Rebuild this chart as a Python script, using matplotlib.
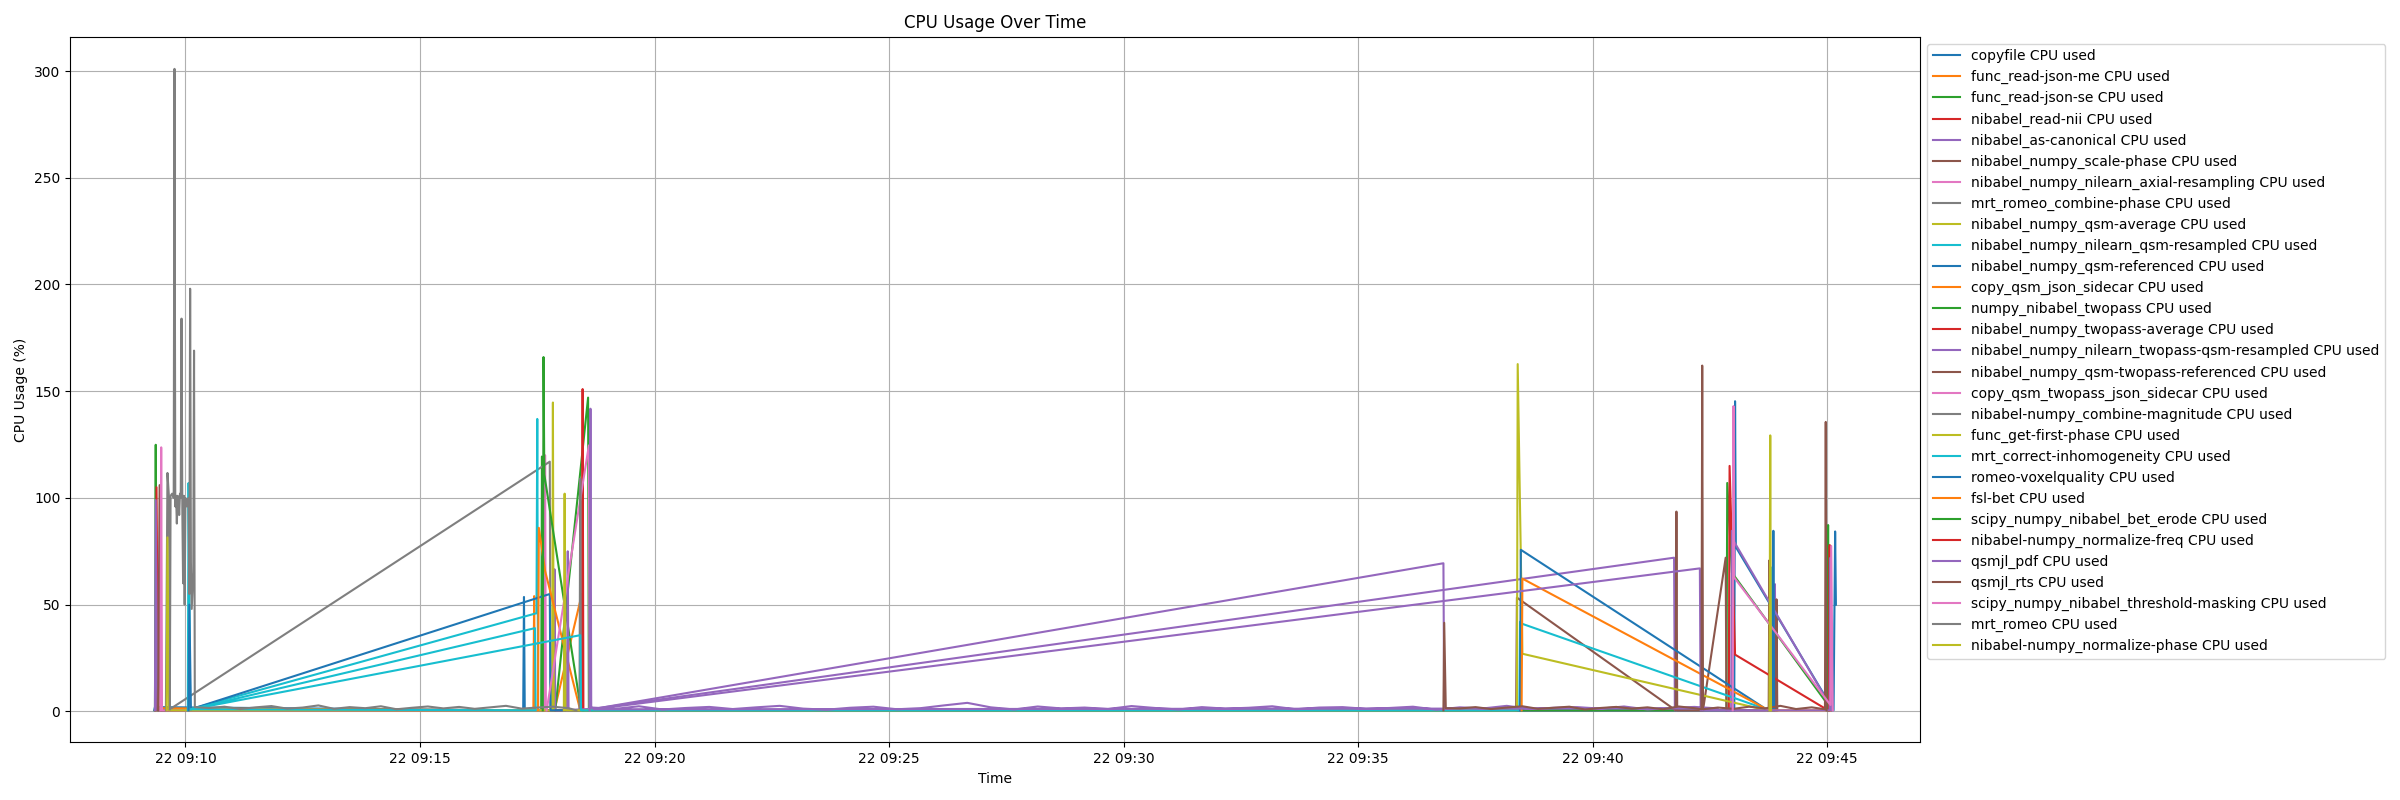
import pandas as pd
import matplotlib.pyplot as plt

DAY = "2024-03-22 09:"

# sample times (MM:SS after 09:00) and CPU % per task
copyfile_t = ["09:20", "09:21", "17:12", "17:13", "17:14"]
copyfile_v = [0.5, 2.0, 0.5, 53.6, 0.5]

json_me_t = ["09:21", "09:22", "17:25", "17:26", "17:27", "17:52", "18:27", "18:28"]
json_me_v = [0.5, 1.5, 0.5, 54.0, 0.5, 0.5, 55.0, 0.5]

json_se_t = ["09:21", "09:22", "09:23", "17:35", "17:36", "17:37", "17:53", "18:35", "18:36"]
json_se_v = [0.5, 124.9, 0.5, 0.5, 119.4, 0.5, 0.5, 147.0, 0.5]

read_nii_t = ["09:22", "09:23", "09:25", "18:27", "18:28", "18:29"]
read_nii_v = [0.5, 105.0, 0.5, 0.5, 151.0, 0.5]

canonical_t = ["09:21", "09:22", "09:24", "17:51", "17:52", "17:53", "18:40", "36:49",
               "36:50", "43:52", "43:53", "43:54"]
canonical_v = [0.5, 99.0, 0.5, 0.5, 66.6, 0.5, 1.0, 69.4, 0.5, 0.5, 59.6, 0.5]

scale_phase_t = ["09:25", "09:27", "09:28", "43:45", "43:46", "43:47", "43:54", "43:55", "43:56"]
scale_phase_v = [0.5, 106.0, 0.5, 0.5, 70.8, 0.5, 0.5, 52.5, 0.5]

axial_t = ["09:28", "09:29", "09:30", "17:39", "17:40", "17:41"]
axial_v = [0.5, 123.7, 0.5, 0.5, 120.0, 0.5]

combine_phase_t = ["09:35", "09:37", "09:39", "09:40", "17:46", "17:47"]
combine_phase_v = [0.5, 111.7, 100.0, 1.0, 117.0, 0.5]

qsm_avg_t = ["09:36", "09:37", "09:39", "17:49", "17:50", "17:51"]
qsm_avg_v = [0.5, 81.5, 0.5, 0.5, 144.7, 0.5]

qsm_resampled_t = ["10:03", "10:04", "10:05", "10:06", "17:29", "17:30", "17:31"]
qsm_resampled_v = [0.5, 107.0, 60.0, 1.0, 46.0, 137.0, 0.5]

qsm_ref_t = ["10:04", "10:05", "10:07", "17:46", "17:47", "43:01", "43:02", "43:03",
             "45:08", "45:10", "45:11"]
qsm_ref_v = [0.5, 50.0, 1.0, 55.0, 0.5, 0.5, 145.3, 77.0, 0.5, 84.3, 50.0]

json_sidecar_t = ["17:31", "17:32", "17:40", "18:25", "18:26"]
json_sidecar_v = [0.5, 86.0, 65.8, 0.5, 0.5]

twopass_t = ["17:37", "17:38", "17:39", "18:26", "42:51", "42:52", "42:58", "45:06"]
twopass_v = [0.5, 166.0, 111.0, 0.5, 0.5, 107.0, 65.0, 0.5]

twopass_avg_t = ["42:54", "42:55", "43:02", "45:01"]
twopass_avg_v = [0.5, 115.0, 26.6, 0.5]

twopass_resampled_t = ["18:08", "18:09", "18:10", "18:41", "41:44", "41:45", "42:57",
                       "42:58", "43:00", "45:07"]
twopass_resampled_v = [0.5, 75.0, 0.5, 1.2, 72.0, 0.5, 0.5, 84.6, 80.0, 0.5]

twopass_ref_t = ["38:22", "38:23", "41:46", "41:47", "41:48", "42:21", "42:50", "42:51"]
twopass_ref_v = [0.5, 53.3, 0.5, 93.6, 0.5, 0.5, 72.0, 0.5]

twopass_sidecar_t = ["17:42", "18:36", "18:37"]
twopass_sidecar_v = [0.5, 124.6, 0.5]

combine_mag_t = ["18:24", "18:25", "18:26"]
combine_mag_v = [0.5, 109.0, 0.5]

first_phase_t = ["18:04", "18:05", "18:06", "38:23", "38:24", "38:30", "43:43"]
first_phase_v = [0.5, 102.0, 0.5, 0.5, 162.7, 27.0, 0.5]

inhomog_t = ["10:07", "17:27", "17:28", "10:08", "18:25", "18:26", "38:26", "38:27",
             "38:30", "43:46", "43:48", "43:49", "43:50"]
inhomog_v = [1.0, 39.0, 0.5, 1.0, 35.7, 0.5, 0.5, 42.0, 41.0, 0.5, 0.5, 67.4, 0.5]

voxelquality_t = ["38:27", "38:28", "43:44", "43:50", "43:51", "43:52"]
voxelquality_v = [0.5, 75.7, 0.5, 0.5, 84.6, 0.5]

fsl_bet_t = ["38:29", "38:30", "43:45", "45:02", "45:03", "45:04"]
fsl_bet_v = [0.5, 62.2, 0.5, 0.5, 77.8, 0.5]

bet_erode_t = ["45:00", "45:01", "45:02"]
bet_erode_v = [0.5, 87.3, 0.5]

norm_freq_t = ["45:02", "45:03", "45:04"]
norm_freq_v = [0.5, 77.9, 0.5]

pdf_t = ["18:37", "18:38", "18:39",
         "18:40", "19:10", "19:40", "20:10", "20:40", "21:10", "21:40", "22:10", "22:40",
         "23:10", "23:40", "24:10", "24:40", "25:10", "25:40", "26:10", "26:40", "27:10",
         "27:40", "28:10", "28:40", "29:10", "29:40", "30:10", "30:40", "31:10", "31:40",
         "32:10", "32:40", "33:10", "33:40", "34:10", "34:40", "35:10", "35:40", "36:10",
         "36:40", "37:10", "37:40", "38:10", "38:40", "39:10", "39:40", "40:10", "40:40",
         "41:10", "41:40", "42:10", "42:40",
         "18:42", "42:17", "42:18", "45:03", "45:04", "45:05"]
pdf_v = [0.5, 141.8, 1.5,
         1.8, 1.2, 2.4, 0.9, 1.6, 2.1, 1.1, 1.9, 2.6,
         1.3, 0.8, 1.7, 2.2, 1.0, 1.5, 2.8, 4.0, 1.9,
         0.9, 2.3, 1.4, 1.8, 1.1, 2.5, 1.6, 0.9, 2.0,
         1.3, 1.7, 2.4, 1.0, 1.8, 2.0, 1.2, 1.6, 2.2,
         0.8, 1.9, 1.4, 2.6, 1.1, 1.7, 2.0, 1.3, 2.3,
         0.9, 1.6, 2.1, 1.4,
         1.0, 67.0, 0.5, 0.5, 72.0, 0.5]

rts_t = ["36:49", "36:50", "36:52", "37:10", "37:30", "37:50", "38:10", "38:30", "38:50",
         "39:10", "39:30", "39:50", "40:10", "40:30", "40:50", "41:10", "41:30", "41:50",
         "42:10", "42:19", "42:20", "42:21", "42:40", "43:00", "43:20", "43:40", "44:00",
         "44:20", "44:40", "44:57", "44:58", "44:59"]
rts_v = [0.5, 41.5, 1.5, 1.4, 2.0, 1.1, 1.8, 2.4, 1.2,
         1.7, 2.2, 0.9, 1.6, 2.1, 1.3, 1.9, 1.0, 2.3,
         1.5, 1.0, 162.0, 1.0, 1.8, 1.2, 2.2, 1.4, 2.6,
         1.1, 1.9, 1.0, 135.6, 0.5]

threshold_t = ["42:59", "43:00", "43:01", "45:04", "45:05", "45:07"]
threshold_v = [0.5, 143.0, 62.7, 3.0, 77.5, 0.5]

romeo_t = ["09:40", "09:41", "09:43", "09:45", "09:46", "09:47", "09:48", "09:49", "09:50",
           "09:51", "09:52", "09:53", "09:54", "09:55", "09:56", "09:57", "09:58", "09:59",
           "10:00", "10:02", "10:04", "10:05", "10:06", "10:07", "10:08", "10:10", "10:11",
           "10:12", "10:30", "10:50", "11:10", "11:30", "11:50", "12:10", "12:30", "12:50",
           "13:10", "13:30", "13:50", "14:10", "14:30", "14:50", "15:10", "15:30", "15:50",
           "16:10", "16:30", "16:50", "17:10", "17:30", "17:50", "18:10", "18:20"]
romeo_v = [1.0, 101.0, 102.0, 100.0, 301.0, 96.0, 101.0, 88.0, 101.0,
           100.0, 92.0, 102.0, 100.0, 184.0, 95.0, 60.0, 101.0, 50.0,
           100.0, 96.0, 100.0, 55.0, 198.0, 70.0, 48.0, 65.0, 169.0,
           2.0, 1.6, 2.2, 1.1, 1.9, 2.5, 1.3, 1.8, 2.8,
           1.2, 2.0, 1.5, 2.4, 1.0, 1.7, 2.3, 1.4, 2.1,
           1.2, 1.9, 2.6, 1.3, 1.8, 2.2, 1.5, 0.5]

norm_phase_t = ["43:46", "43:47", "43:48"]
norm_phase_v = [0.5, 129.3, 0.5]

series = [
    ("copyfile", copyfile_t, copyfile_v),
    ("func_read-json-me", json_me_t, json_me_v),
    ("func_read-json-se", json_se_t, json_se_v),
    ("nibabel_read-nii", read_nii_t, read_nii_v),
    ("nibabel_as-canonical", canonical_t, canonical_v),
    ("nibabel_numpy_scale-phase", scale_phase_t, scale_phase_v),
    ("nibabel_numpy_nilearn_axial-resampling", axial_t, axial_v),
    ("mrt_romeo_combine-phase", combine_phase_t, combine_phase_v),
    ("nibabel_numpy_qsm-average", qsm_avg_t, qsm_avg_v),
    ("nibabel_numpy_nilearn_qsm-resampled", qsm_resampled_t, qsm_resampled_v),
    ("nibabel_numpy_qsm-referenced", qsm_ref_t, qsm_ref_v),
    ("copy_qsm_json_sidecar", json_sidecar_t, json_sidecar_v),
    ("numpy_nibabel_twopass", twopass_t, twopass_v),
    ("nibabel_numpy_twopass-average", twopass_avg_t, twopass_avg_v),
    ("nibabel_numpy_nilearn_twopass-qsm-resampled", twopass_resampled_t, twopass_resampled_v),
    ("nibabel_numpy_qsm-twopass-referenced", twopass_ref_t, twopass_ref_v),
    ("copy_qsm_twopass_json_sidecar", twopass_sidecar_t, twopass_sidecar_v),
    ("nibabel-numpy_combine-magnitude", combine_mag_t, combine_mag_v),
    ("func_get-first-phase", first_phase_t, first_phase_v),
    ("mrt_correct-inhomogeneity", inhomog_t, inhomog_v),
    ("romeo-voxelquality", voxelquality_t, voxelquality_v),
    ("fsl-bet", fsl_bet_t, fsl_bet_v),
    ("scipy_numpy_nibabel_bet_erode", bet_erode_t, bet_erode_v),
    ("nibabel-numpy_normalize-freq", norm_freq_t, norm_freq_v),
    ("qsmjl_pdf", pdf_t, pdf_v),
    ("qsmjl_rts", rts_t, rts_v),
    ("scipy_numpy_nibabel_threshold-masking", threshold_t, threshold_v),
    ("mrt_romeo", romeo_t, romeo_v),
    ("nibabel-numpy_normalize-phase", norm_phase_t, norm_phase_v),
]

fig, ax = plt.subplots(figsize=(24, 8), dpi=100)

for name, times, values in series:
    ts = pd.to_datetime([DAY + t for t in times])
    ax.plot(ts, values, label=f"{name} CPU used")

ax.set_title("CPU Usage Over Time")
ax.set_xlabel("Time")
ax.set_ylabel("CPU Usage (%)")
ax.grid(True)
ax.legend(loc="upper left", bbox_to_anchor=(1, 1))

fig.subplots_adjust(left=0.0292, right=0.8, bottom=0.072, top=0.954)
fig.savefig("out.png", dpi=100)
